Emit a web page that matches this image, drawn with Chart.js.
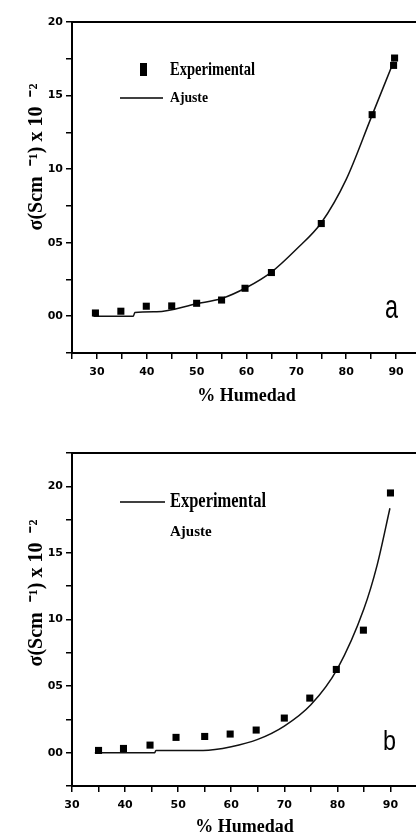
<!DOCTYPE html>
<html lang="es">
<head>
<meta charset="UTF-8">
<title>Conductividad vs % Humedad</title>
<script src="https://cdn.jsdelivr.net/npm/chart.js"></script>
<style>
    html, body { margin: 0; padding: 0; background: #fff; overflow: hidden; }
    body { width: 416px; height: 836px; position: relative; }
    .panel { position: absolute; left: 0; width: 430px; }
    #panelA { top: 0; height: 420px; }
    #panelB { top: 420px; height: 440px; }
</style>
</head>
<body>
<div class="panel" id="panelA"><canvas id="chartA"></canvas></div>
<div class="panel" id="panelB"><canvas id="chartB"></canvas></div>

<script>
    // --- panel a ---
    const expAx = [29.7, 34.8, 39.9, 45, 50, 55, 59.7, 65, 75, 85.2, 89.5, 89.7];
    const expAy = [0.22, 0.34, 0.68, 0.7, 0.88, 1.1, 1.9, 2.97, 6.3, 13.7, 17.05, 17.55];
    const fitAx = [29.3, 37.3, 37.6, 42, 50, 55, 60, 65, 70, 75, 80, 85, 89.5];
    const fitAy = [0, 0, 0.25, 0.3, 0.85, 1.2, 1.95, 3.0, 4.55, 6.35, 9.3, 13.5, 17.3];

    // --- panel b ---
    const expBx = [35, 39.7, 44.7, 49.6, 55, 59.8, 64.7, 70, 74.8, 79.8, 84.9, 90];
    const expBy = [0.17, 0.32, 0.57, 1.15, 1.22, 1.4, 1.7, 2.6, 4.1, 6.25, 9.2, 19.5];
    const fitBx = [34.3, 45.6, 45.8, 54.7, 60, 65, 70, 75, 80, 85, 87.5, 89.9];
    const fitBy = [0, 0, 0.17, 0.17, 0.45, 1.0, 2.0, 3.6, 6.3, 10.8, 14.1, 18.35];

    // ticks
    const xTickValues = [30, 40, 50, 60, 70, 80, 90];
    const xTickLabels = ['30', '40', '50', '60', '70', '80', '90'];
    const yTickValues = [0, 5, 10, 15, 20];
    const yTickLabels = ['00', '05', '10', '15', '20'];

    const legendA = ['Experimental', 'Ajuste'];
    const legendB = ['Experimental', 'Ajuste'];
    const yTitle = 'σ(Scm  ⁻¹) x 10  ⁻²';
    const xTitle = '% Humedad';

    const toPts = (xs, ys) => xs.map((x, i) => ({ x: x, y: ys[i] }));
    const pick = (vals, labels) => v => {
        const i = vals.indexOf(v);
        return i >= 0 ? labels[i] : '';
    };

    // extra drawing: frame, y title, legend, panel letter
    const decor = {
        id: 'decor',
        afterDraw(chart, args, o) {
            const ctx = chart.ctx, a = chart.chartArea;
            ctx.save();
            ctx.strokeStyle = '#000';
            ctx.fillStyle = '#000';
            ctx.lineWidth = 2;
            ctx.beginPath();
            ctx.moveTo(a.left, a.top);
            ctx.lineTo(a.right, a.top);
            ctx.lineTo(a.right, a.bottom);
            ctx.stroke();

            // y title
            ctx.save();
            ctx.translate(o.yt.x, o.yt.y);
            ctx.rotate(-Math.PI / 2);
            ctx.font = 'bold 20px "Liberation Serif"';
            ctx.textAlign = 'center';
            ctx.textBaseline = 'alphabetic';
            ctx.fillText(yTitle, 0, 0, o.yt.w);
            ctx.restore();

            // legend
            ctx.textAlign = 'left';
            ctx.textBaseline = 'middle';
            o.legend.forEach(it => {
                if (it.sym === 'rect') {
                    ctx.fillRect(it.sx, it.y - 7, 7, 13);
                } else if (it.sym === 'line') {
                    ctx.lineWidth = 1.5;
                    ctx.beginPath();
                    ctx.moveTo(it.sx, it.y);
                    ctx.lineTo(it.sx2, it.y);
                    ctx.stroke();
                }
                ctx.font = it.font;
                ctx.fillText(it.text, 170, it.y, it.w);
            });

            // letter
            ctx.textBaseline = 'alphabetic';
            ctx.font = o.letter.font;
            ctx.fillText(o.letter.text, o.letter.x, o.letter.y, o.letter.w);
            ctx.restore();
        }
    };

    function makeChart(id, exp, fit, sc, deco) {
        const tickFont = { family: 'DejaVu Sans', size: 11, weight: 'bold' };
        return new Chart(document.getElementById(id), {
            type: 'scatter',
            data: {
                datasets: [{
                    label: 'Experimental',
                    data: exp,
                    showLine: false,
                    pointStyle: 'rect',
                    pointRadius: 5,
                    backgroundColor: '#000',
                    borderColor: '#000',
                    borderWidth: 0,
                    order: 1
                }, {
                    label: 'Ajuste',
                    data: fit,
                    showLine: true,
                    pointRadius: 0,
                    borderColor: '#111',
                    borderWidth: 1.5,
                    cubicInterpolationMode: 'monotone',
                    fill: false,
                    order: 2
                }]
            },
            options: {
                responsive: true,
                maintainAspectRatio: false,
                animation: false,
                layout: { padding: { top: sc.top, right: sc.right, left: 0, bottom: 0 } },
                plugins: {
                    legend: { display: false },
                    tooltip: { enabled: false },
                    decor: deco
                },
                scales: {
                    x: {
                        type: 'linear',
                        min: sc.xmin,
                        max: 95,
                        afterFit: s => { s.height = sc.xh; },
                        border: { display: true, color: '#000', width: 2 },
                        grid: { drawOnChartArea: false, color: '#000', lineWidth: 1.5, tickLength: 6 },
                        ticks: {
                            stepSize: 5,
                            includeBounds: false,
                            autoSkip: false,
                            maxRotation: 0,
                            padding: 7,
                            color: '#000',
                            font: tickFont,
                            callback: pick(xTickValues, xTickLabels)
                        },
                        title: {
                            display: true,
                            text: xTitle,
                            color: '#000',
                            font: { family: 'Liberation Serif', size: 18, weight: 'bold' },
                            padding: { top: 0, bottom: sc.tpad }
                        }
                    },
                    y: {
                        type: 'linear',
                        min: -2.5,
                        max: sc.ymax,
                        afterFit: s => { s.width = 72; },
                        border: { display: true, color: '#000', width: 2 },
                        grid: { drawOnChartArea: false, color: '#000', lineWidth: 1.5, tickLength: 6 },
                        ticks: {
                            stepSize: 2.5,
                            includeBounds: false,
                            autoSkip: false,
                            padding: 3,
                            color: '#000',
                            font: tickFont,
                            callback: pick(yTickValues, yTickLabels)
                        }
                    }
                }
            },
            plugins: [decor]
        });
    }

    makeChart('chartA', toPts(expAx, expAy), toPts(fitAx, fitAy),
        { top: 22, right: 9, xmin: 25, ymax: 20, xh: 67, tpad: 13 },
        {
            yt: { x: 42, y: 157, w: 170 },
            legend: [
                { sym: 'rect', sx: 140, y: 70, text: legendA[0], font: 'bold 19px "Liberation Serif"', w: 85 },
                { sym: 'line', sx: 120, sx2: 163, y: 98, text: legendA[1], font: 'bold 15px "Liberation Serif"', w: 38 }
            ],
            letter: { text: 'a', x: 385, y: 318, font: '33px "Liberation Sans"', w: 13 }
        });

    makeChart('chartB', toPts(expBx, expBy), toPts(fitBx, fitBy),
        { top: 33, right: 13, xmin: 30, ymax: 22.5, xh: 74, tpad: 22 },
        {
            yt: { x: 42, y: 173, w: 165 },
            legend: [
                { sym: 'line', sx: 120, sx2: 165, y: 82, text: legendB[0], font: 'bold 20px "Liberation Serif"', w: 96 },
                { sym: null, y: 112, text: legendB[1], font: 'bold 15px "Liberation Serif"', w: 43 }
            ],
            letter: { text: 'b', x: 383, y: 330, font: '28px "Liberation Sans"', w: 13 }
        });
</script>
</body>
</html>
